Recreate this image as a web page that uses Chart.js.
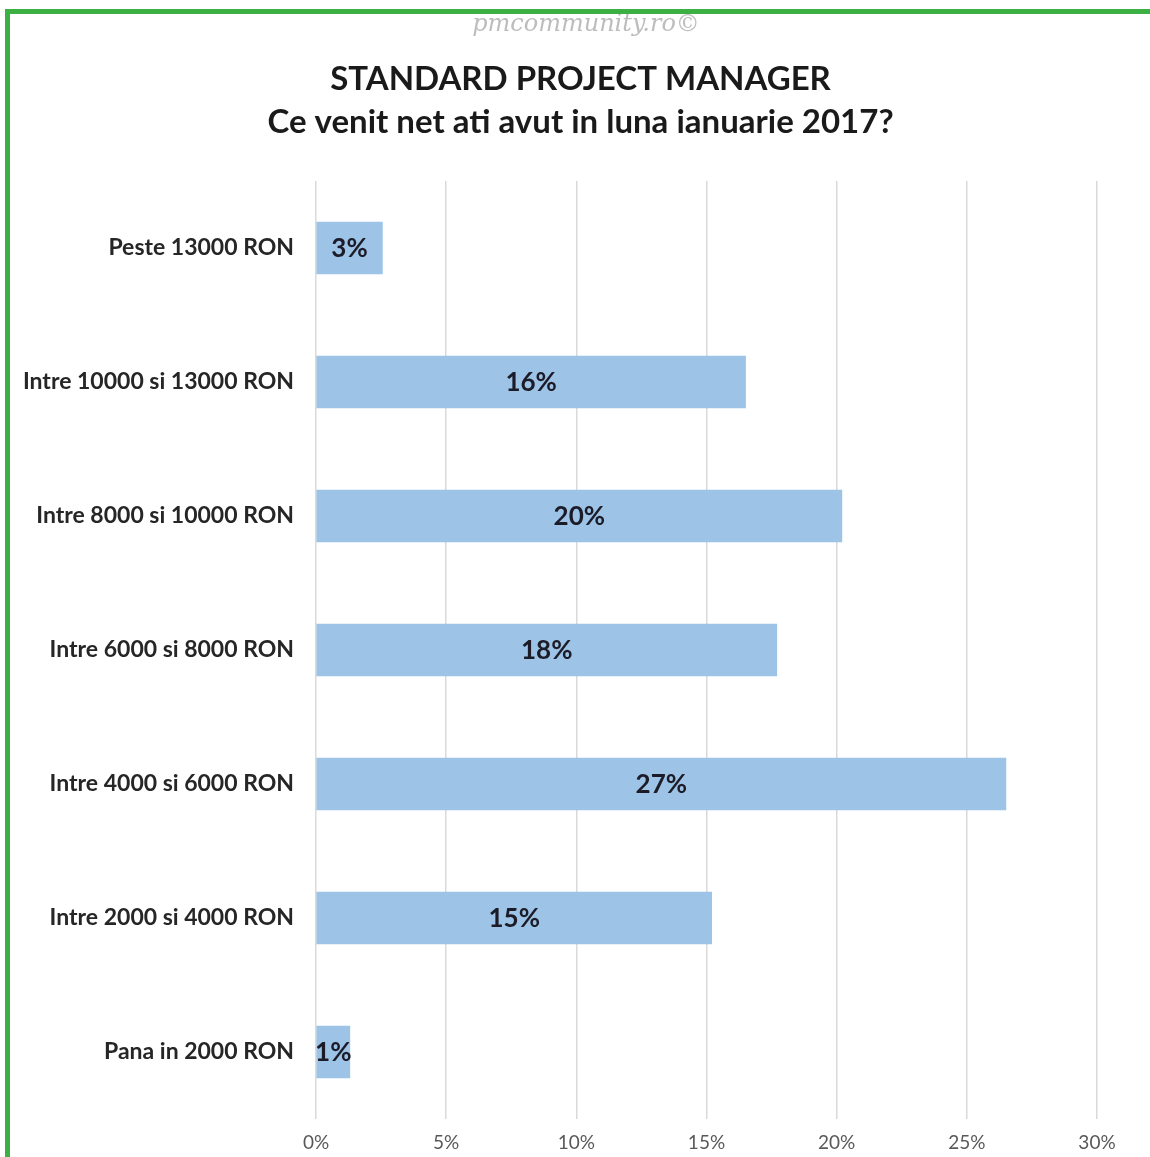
<!DOCTYPE html>
<html>
<head>
<meta charset="utf-8">
<script src="https://cdn.jsdelivr.net/npm/chart.js@4.4.1/dist/chart.umd.min.js"></script>
<style>
  html, body { margin: 0; padding: 0; background: #fff; }
  #wrap { position: relative; width: 1150px; height: 1157px; overflow: hidden; }
  #chart { position: absolute; left: 0; top: 0; }
  .edge { position: absolute; background: #3cb043; }
</style>
</head>
<body>
<div id="wrap">
  <canvas id="chart" width="1150" height="1157"></canvas>
  <div class="edge" style="left:5px; top:9px; width:1145px; height:5px;"></div>
  <div class="edge" style="left:5px; top:9px; width:5px; height:1148px;"></div>
</div>
<script>
// categories, top to bottom
const categories = [
  "Peste 13000 RON",
  "Intre 10000 si 13000 RON",
  "Intre 8000 si 10000 RON",
  "Intre 6000 si 8000 RON",
  "Intre 4000 si 6000 RON",
  "Intre 2000 si 4000 RON",
  "Pana in 2000 RON"
];
// share of respondents, percent
const shares = [2.55, 16.5, 20.2, 17.7, 26.5, 15.2, 1.3];
const shareLabels = ["3%", "16%", "20%", "18%", "27%", "15%", "1%"];
const xTicks = [0, 5, 10, 15, 20, 25, 30];

const FONT = "Lato, 'Open Sans', sans-serif";

// value labels centred inside the bars
const barLabels = {
  id: "barLabels",
  afterDatasetsDraw(chart) {
    const ctx = chart.ctx;
    const meta = chart.getDatasetMeta(0);
    ctx.save();
    ctx.font = "bold 26px " + FONT;
    ctx.fillStyle = "#1c1c28";
    ctx.textAlign = "center";
    ctx.textBaseline = "middle";
    meta.data.forEach((bar, i) => {
      const x = (bar.x + bar.base) / 2;
      ctx.fillText(shareLabels[i], x, bar.y + 1);
    });
    ctx.restore();
  }
};

// faint watermark above the title, and title centred a bit right like the original
const decor = {
  id: "decor",
  afterLayout(chart) {
    if (chart.titleBlock) chart.titleBlock.left = 64;
  },
  afterDraw(chart) {
    const ctx = chart.ctx;
    ctx.save();
    ctx.font = "italic 24px 'DejaVu Serif', serif";
    ctx.fillStyle = "#bdbdbd";
    ctx.textAlign = "center";
    ctx.textBaseline = "alphabetic";
    ctx.fillText("pmcommunity.ro©", 586, 31);
    ctx.restore();
  }
};

new Chart(document.getElementById("chart"), {
  type: "bar",
  data: {
    labels: categories,
    datasets: [{
      data: shares,
      backgroundColor: "#9dc3e6",
      borderWidth: 0,
      barThickness: 52
    }]
  },
  plugins: [barLabels, decor],
  options: {
    indexAxis: "y",
    responsive: false,
    animation: false,
    layout: { padding: { top: 0, right: 53, bottom: 5, left: 20 } },
    plugins: {
      legend: { display: false },
      tooltip: { enabled: false },
      title: {
        display: true,
        text: ["STANDARD PROJECT MANAGER", "Ce venit net ati avut in luna ianuarie 2017?"],
        color: "#1a1a1a",
        font: { family: FONT, size: 33, weight: "bold", lineHeight: 1.303 },
        padding: { top: 57.5, bottom: 37.5 }
      }
    },
    scales: {
      x: {
        min: 0,
        max: 30,
        afterBuildTicks: axis => { axis.ticks = xTicks.map(v => ({ value: v })); },
        afterFit: axis => { axis.height = 33; },
        grid: { color: "#d9d9d9", lineWidth: 1.5, drawTicks: false },
        border: { display: false },
        ticks: {
          color: "#595959",
          font: { family: FONT, size: 19, lineHeight: 1 },
          padding: 14,
          callback: v => v + "%"
        }
      },
      y: {
        afterFit: axis => { axis.width = 296; },
        grid: { display: false, drawTicks: false },
        border: { display: false },
        ticks: {
          color: "#262626",
          font: { family: FONT, size: 23, weight: "bold" },
          padding: 22
        }
      }
    }
  }
});
</script>
</body>
</html>
